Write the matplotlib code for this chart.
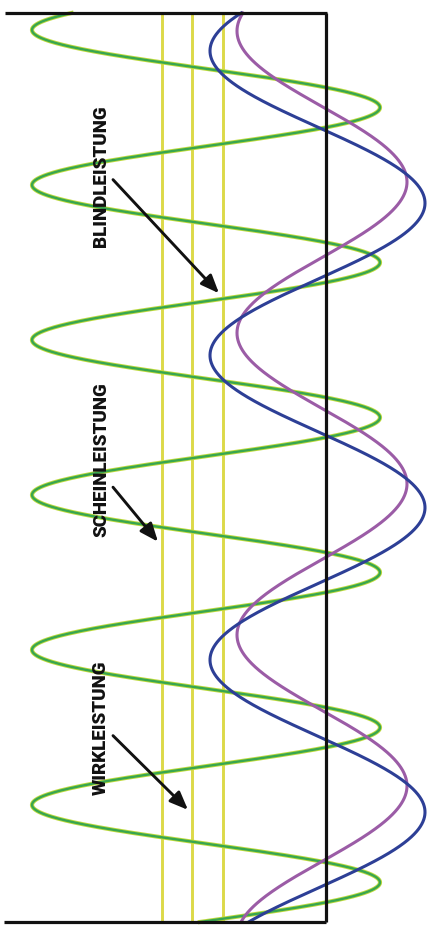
import numpy as np
import matplotlib
matplotlib.use("Agg")
import matplotlib.pyplot as plt

# ---- data ----
# time axis in ms (top = 0, bottom = 60)
t_start, t_end = 0.0, 60.0
# sinusoids: offset, amplitude, period (ms), time of maximum (ms); positive values point left
voltage = dict(offset=8.5, amp=107.5, period=20.1, t_max=2.5)       # blue
current = dict(offset=4.0, amp=85.0, period=19.93, t_max=1.19)      # purple
power = dict(offset=120.0, amp=174.0, period=10.23, t_max=1.12)     # green
# power levels (yellow lines)
level_names = ["SCHEINLEISTUNG", "WIRKLEISTUNG", "BLINDLEISTUNG"]
level_values = [164.0, 134.0, 103.0]
# label positions: time of label centre, arrow start time, arrow tip time
label_t = [29.5, 47.2, 10.8]
arrow_t0 = [31.3, 47.7, 11.0]
arrow_t1 = [34.9, 52.6, 18.5]

# ---- figure ----
fig = plt.figure(figsize=(4.32, 9.32), dpi=100)
ax = fig.add_axes([0, 0, 1, 1])
ax.set_xlim(326, -106)
ax.set_ylim(60.66, -0.858)
ax.axis("off")

t = np.linspace(t_start, t_end, 3000)

def wave(p):
    return p["offset"] + p["amp"] * np.cos(2 * np.pi * (t - p["t_max"]) / p["period"])

for v in level_values:
    ax.plot([v, v], [t_start, t_end], color="#dcd948", lw=2.1, zorder=1, solid_capstyle="butt")

ax.plot(wave(power), t, color="#bfda3c", lw=3.0, zorder=2)
ax.plot(wave(power), t, color="#38a64f", lw=1.7, zorder=2.1)
ax.plot(wave(current), t, color="#9b5ca6", lw=2.2, zorder=3)
ax.plot(wave(voltage), t, color="#2d3f96", lw=2.2, zorder=3.1)

# frame lines
ax.plot([321, -1], [t_start, t_start], color="#111111", lw=2.3, zorder=4, solid_capstyle="butt")
ax.plot([322, 0], [t_end, t_end], color="#111111", lw=2.3, zorder=4, solid_capstyle="butt")
ax.plot([0, 0], [t_start, t_end], color="#111111", lw=2.3, zorder=4, solid_capstyle="butt")

for name, v, tl, ta, tb in zip(level_names, level_values, label_t, arrow_t0, arrow_t1):
    ax.text(225, tl, name, rotation=90, ha="center", va="center",
            fontsize=13.5, fontweight="heavy", family="Roboto", color="#111111", zorder=5)
    ax.annotate("", xy=(v + 4, tb), xytext=(213, ta),
                arrowprops=dict(arrowstyle="-|>,head_length=1.1,head_width=0.45",
                                color="#111111", lw=2.1, shrinkA=0, shrinkB=0), zorder=5)

fig.savefig("out.png", dpi=100)
